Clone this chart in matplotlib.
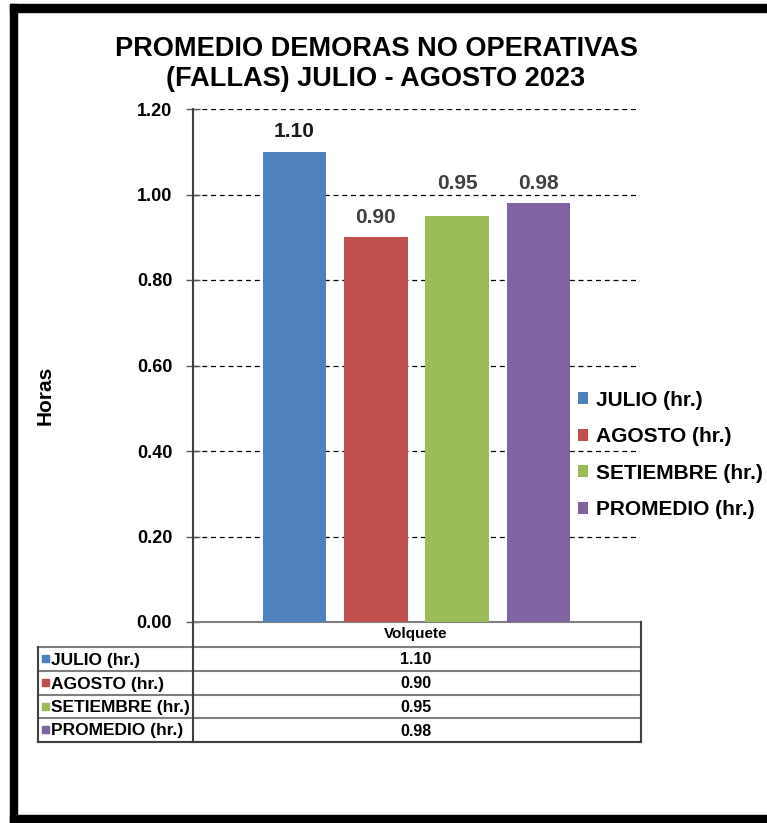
import matplotlib
matplotlib.use('Agg')
import matplotlib.pyplot as plt
from matplotlib.lines import Line2D
from matplotlib.patches import Rectangle

plt.rcParams['font.family'] = ['Liberation Sans', 'DejaVu Sans']
plt.rcParams['font.weight'] = 'bold'

categoria = 'Volquete'
series = ['JULIO (hr.)', 'AGOSTO (hr.)', 'SETIEMBRE (hr.)', 'PROMEDIO (hr.)']
horas = [1.10, 0.90, 0.95, 0.98]
colores = ['#4f81bd', '#c0504d', '#9bbb59', '#8064a2']
yticks = [0.0, 0.2, 0.4, 0.6, 0.8, 1.0, 1.2]

W, H = 767, 823
fig = plt.figure(figsize=(W / 100, H / 100), dpi=100)


def fx(px):
    return px / W


def fy(py):
    return 1 - py / H


ax = fig.add_axes([fx(193), fy(622), fx(640) - fx(193), fy(109) - fy(622)])

# bars, one per series, grouped around the single category
paso = 0.182
ancho = 0.143
barras = []
for i, (nombre, v, c) in enumerate(zip(series, horas, colores)):
    x = (i - 1.5) * paso
    b = ax.bar(x, v, width=ancho, color=c, label=nombre, zorder=3)
    barras.append(b)
    tono = '#1a1a1a' if i == 0 else '#404040'
    # the SETIEMBRE label sits level with the PROMEDIO one
    extra = 0.03 if i == 2 else 0.0
    ax.text(x, v + 0.024 + extra, f'{v:.2f}', ha='center', va='bottom',
            fontsize=15, color=tono, zorder=4)

for t in yticks[1:]:
    ax.axhline(t, color='black', lw=0.9, ls=(0, (4, 3)), zorder=1)

ax.set_xlim(-0.5, 0.5)
ax.set_ylim(0, 1.2)
ax.set_yticks(yticks)
ax.set_yticklabels([f'{t:.2f}' for t in yticks])
ax.set_xticks([])
ax.tick_params(axis='y', direction='inout', length=10, width=1,
               color='#595959', labelsize=13, pad=10)
for s in ['top', 'right']:
    ax.spines[s].set_visible(False)
ax.spines['left'].set_color('#404040')
ax.spines['left'].set_linewidth(1.5)
ax.spines['bottom'].set_color('#808080')
ax.spines['bottom'].set_linewidth(1.5)

fig.text(fx(376), fy(64), 'PROMEDIO DEMORAS NO OPERATIVAS\n(FALLAS) JULIO - AGOSTO 2023',
         ha='center', va='center', fontsize=19.5, linespacing=1.2)
fig.text(fx(45), fy(395), 'Horas', rotation=90, ha='center', va='center', fontsize=15)

fig.legend(handles=barras, labels=series, loc='center left',
           bbox_to_anchor=(fx(578), fy(455)), frameon=False, fontsize=15,
           handlelength=0.5, handleheight=0.5, handletextpad=0.35,
           labelspacing=0.84, borderpad=0, borderaxespad=0)

# data table under the chart
def linea(xs, ys, color='#7f7f7f', lw=1.5):
    fig.add_artist(Line2D([fx(x) for x in xs], [fy(y) for y in ys],
                          color=color, lw=lw))


filas = [647, 671, 695, 718, 742]
for y in filas:
    linea([38, 641], [y, y])
linea([38, 641], [742, 742], color='#404040')
linea([38, 38], [647, 742], color='#404040')
linea([193, 193], [622, 742], color='#404040')
linea([641, 641], [622, 742], color='#404040')

fig.text(fx(416), fy(634), categoria, ha='center', va='center', fontsize=11)
for i, (nombre, v, c) in enumerate(zip(series, horas, colores)):
    yc = (filas[i] + filas[i + 1]) / 2
    fig.add_artist(Rectangle((fx(42), fy(yc + 3)), 7 / W, 7 / H,
                             color=c, transform=fig.transFigure))
    fig.text(fx(51), fy(yc + 1), nombre, ha='left', va='center', fontsize=12.5)
    fig.text(fx(416), fy(yc + 1), f'{v:.2f}', ha='center', va='center', fontsize=11.5)

# black frame around the sheet
for x0, y0, x1, y1 in [(10, 4, 767, 12), (10, 4, 17, 823), (10, 815, 767, 823)]:
    fig.add_artist(Rectangle((fx(x0), fy(y1)), (x1 - x0) / W, (y1 - y0) / H,
                             color='black', transform=fig.transFigure))

fig.savefig('out.png', dpi=100)
